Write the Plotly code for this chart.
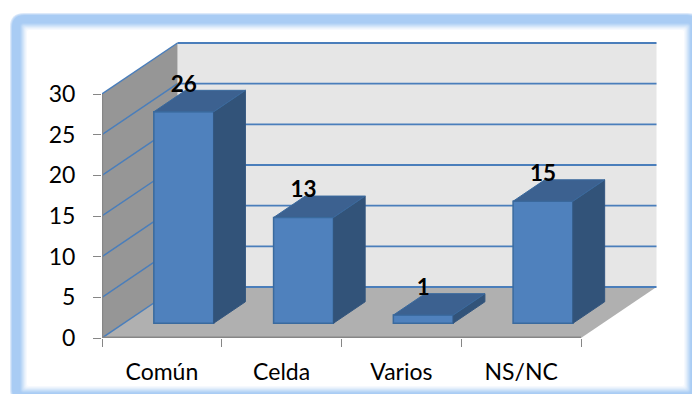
import plotly.graph_objects as go

categories = ["Común", "Celda", "Varios", "NS/NC"]
values = [26, 13, 1, 15]
y_ticks = [0, 5, 10, 15, 20, 25, 30]

W, H = 692, 394
L, R, T, B = 102, 659, 40, 338
cat_px = 119.75
unit_px = (B - 94) / 30
depth_x = 75.5 / cat_px
depth_y = 51 / unit_px
bar_w = 0.5
near, far = 0.29, 0.71

BLUE = "#4F81BD"
GRID = "#4A7EBB"
AXIS = "#868686"

fig = go.Figure()
shapes = []


def px(x):
    return (x - L) / (R - L)


def py(y):
    return (B - y) / (B - T)


def poly(points):
    return "M" + " L".join(f"{a},{b}" for a, b in points) + " Z"


def rrect(x0, y0, x1, y1, r):
    a, b, c, d = px(x0), py(y0), px(x1), py(y1)
    rx, ry = r / (R - L), r / (B - T)
    return (f"M{a+rx},{b} L{c-rx},{b} Q{c},{b} {c},{b-ry} L{c},{d+ry} Q{c},{d} {c-rx},{d} "
            f"L{a+rx},{d} Q{a},{d} {a},{d+ry} L{a},{b-ry} Q{a},{b} {a+rx},{b} Z")


# frame with a soft blue glow
frame = (10, 13, 701, 403)
steps = [(0, "#DCE9FA"), (1, "#BFD8F6"), (2, "#A9CCF4"), (10, "#AFD0F5"), (11, "#BBD7F6"),
         (12, "#C8DFF8"), (13, "#D5E6F9"), (14, "#E2EEFB"), (15, "#EDF4FC"), (16, "#F6F9FE"),
         (17, "#FFFFFF")]
for ins, col in steps:
    shapes.append(dict(type="path", xref="paper", yref="paper", layer="below",
                       path=rrect(frame[0] + ins, frame[1] + ins, frame[2] - ins, frame[3] - ins,
                                  max(14 - ins, 2)),
                       fillcolor=col, line=dict(width=0)))

top_v = y_ticks[-1]
n = len(categories)
# walls and floor
shapes.append(dict(type="path", layer="below", xref="x", yref="y", fillcolor="#E6E6E6", line=dict(width=0),
                   path=poly([(depth_x, depth_y), (n + depth_x, depth_y),
                              (n + depth_x, depth_y + top_v), (depth_x, depth_y + top_v)])))
shapes.append(dict(type="path", layer="below", xref="x", yref="y", fillcolor="#969696", line=dict(width=0),
                   path=poly([(0, 0), (depth_x, depth_y), (depth_x, depth_y + top_v), (0, top_v)])))
shapes.append(dict(type="path", layer="below", xref="x", yref="y", fillcolor="#B0B0B0", line=dict(width=0),
                   path=poly([(0, 0), (n, 0), (n + depth_x, depth_y), (depth_x, depth_y)])))
# gridlines
for v in y_ticks:
    shapes.append(dict(type="line", layer="below", xref="x", yref="y", x0=depth_x, x1=n + depth_x,
                       y0=v + depth_y, y1=v + depth_y, line=dict(color=GRID, width=1.8)))
    shapes.append(dict(type="line", layer="below", xref="x", yref="y", x0=0, x1=depth_x,
                       y0=v, y1=v + depth_y, line=dict(color=GRID, width=1.5)))
# axis edges (half of each width falls outside the clipped plot area)
shapes.append(dict(type="line", layer="below", xref="x", yref="y", x0=0, x1=0, y0=0, y1=top_v,
                   line=dict(color=AXIS, width=2.4)))
shapes.append(dict(type="line", layer="below", xref="x", yref="y", x0=0, x1=n, y0=0, y1=0,
                   line=dict(color=AXIS, width=3.2)))

centers = [i + 0.5 for i in range(n)]
xf = [c + near * depth_x for c in centers]
base = near * depth_y
dxb = (far - near) * depth_x
dyb = (far - near) * depth_y

fig.add_trace(go.Bar(x=xf, y=values, base=[base] * n, width=bar_w,
                     marker=dict(color=BLUE, line=dict(color="#3A6A9E", width=1.5)),
                     hoverinfo="skip", showlegend=False))

top_x, top_y, side_x, side_y = [], [], [], []
for x, v in zip(xf, values):
    a, b = x - bar_w / 2, x + bar_w / 2
    t = base + v
    top_x += [a, b, b + dxb, a + dxb, a, None]
    top_y += [t, t, t + dyb, t + dyb, t, None]
    side_x += [b, b + dxb, b + dxb, b, b, None]
    side_y += [base, base + dyb, t + dyb, t, base, None]

fig.add_trace(go.Scatter(x=side_x, y=side_y, mode="lines", fill="toself", fillcolor="#325379",
                         line=dict(color="#33567F", width=1), hoverinfo="skip", showlegend=False))
fig.add_trace(go.Scatter(x=top_x, y=top_y, mode="lines", fill="toself", fillcolor="#3C6190",
                         line=dict(color="#3A6A9E", width=1), hoverinfo="skip", showlegend=False))
fig.add_trace(go.Scatter(x=xf, y=[base + v + 3.15 for v in values], mode="text",
                         text=[str(v) for v in values], textposition="middle center",
                         textfont=dict(family="Lato", size=22.5, color="black", weight="bold"),
                         hoverinfo="skip", showlegend=False))

fig.update_layout(
    width=W, height=H, autosize=False,
    margin=dict(l=L, r=W - R, t=T, b=H - B),
    paper_bgcolor="white", plot_bgcolor="rgba(0,0,0,0)",
    font=dict(family="Lato", color="black"),
    shapes=shapes, showlegend=False,
    xaxis=dict(range=[0, (R - L) / cat_px], tickmode="array", tickvals=centers, ticktext=categories,
               ticks="", showgrid=False, zeroline=False, showline=False, automargin=False,
               tickfont=dict(family="Lato", size=23), ticklabelstandoff=18,
               minor=dict(tickmode="array", tickvals=list(range(n + 1)), ticks="outside", ticklen=8,
                          tickcolor=AXIS, tickwidth=1.2, showgrid=False)),
    yaxis=dict(range=[0, (B - T) / unit_px], tickmode="array", tickvals=y_ticks,
               ticks="outside", ticklen=8, tickcolor=AXIS, tickwidth=1.2, showgrid=False,
               zeroline=False, showline=False, automargin=False,
               tickfont=dict(family="Lato", size=23), ticklabelstandoff=13),
)
fig.write_html("out.html", config={"displayModeBar": False},
               post_script="document.body.style.margin='0';document.body.style.overflow='hidden';")
